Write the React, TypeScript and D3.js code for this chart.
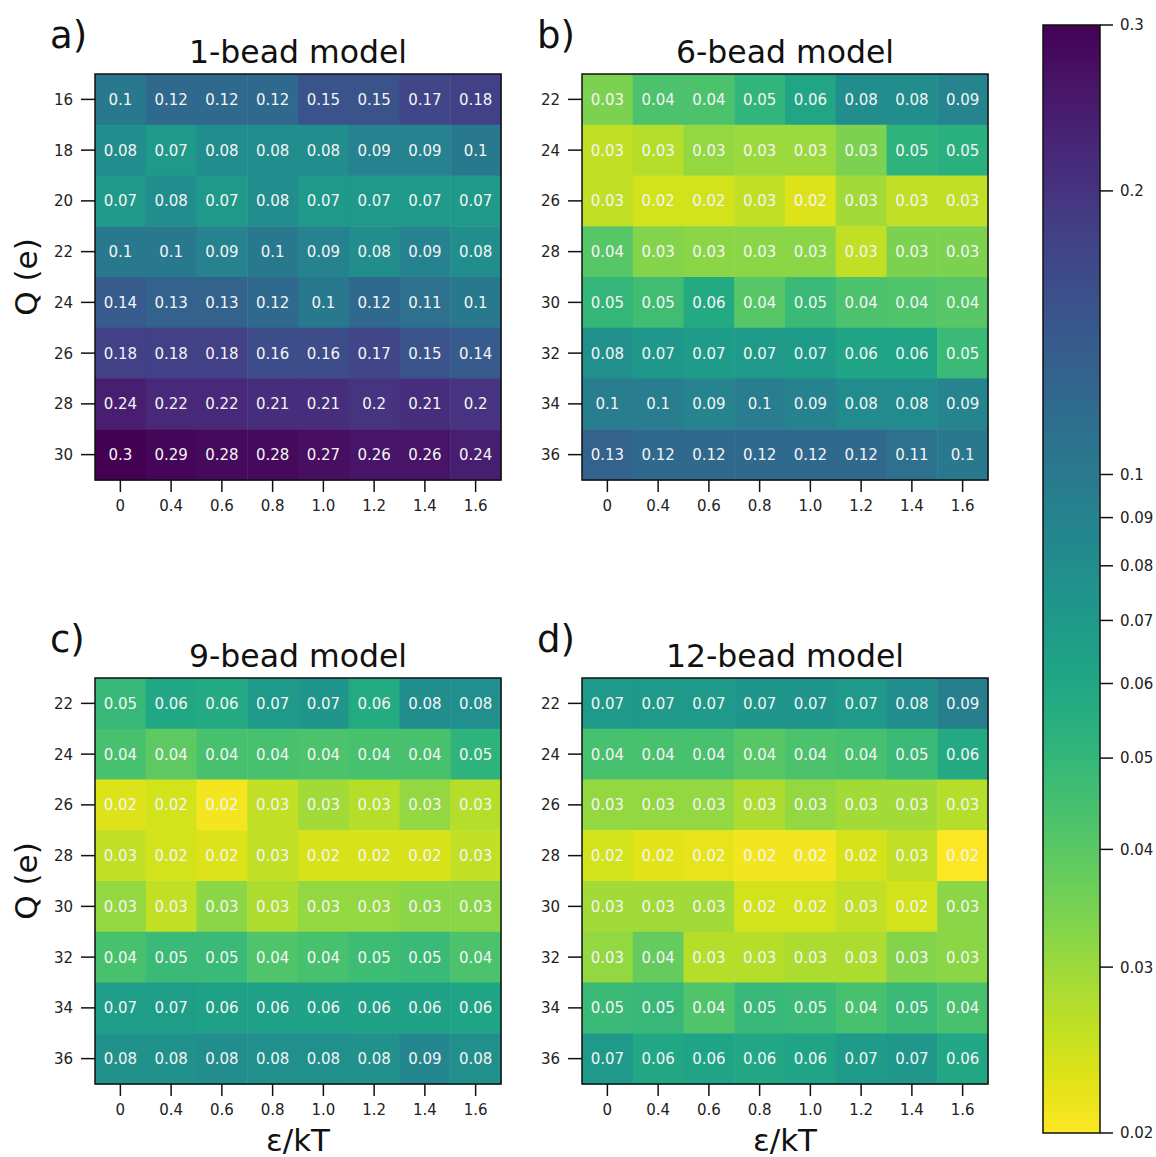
import React from 'react';
import * as d3 from 'd3';

// epsilon/kT categories (columns)
const epsLabels = ['0', '0.4', '0.6', '0.8', '1.0', '1.2', '1.4', '1.6'];
// charge rows
const qLabelsA = ['16', '18', '20', '22', '24', '26', '28', '30'];
const qLabelsBCD = ['22', '24', '26', '28', '30', '32', '34', '36'];

// values read off the cells (unrounded guesses from the cell colours, labels show 2 decimals)
const bead1 = [
    [0.1, 0.12, 0.12, 0.12, 0.15, 0.15, 0.17, 0.18],
    [0.08, 0.07, 0.08, 0.08, 0.08, 0.09, 0.09, 0.1],
    [0.07, 0.08, 0.07, 0.08, 0.07, 0.07, 0.07, 0.07],
    [0.1, 0.1, 0.09, 0.1, 0.09, 0.08, 0.09, 0.08],
    [0.14, 0.13, 0.13, 0.12, 0.1, 0.12, 0.11, 0.1],
    [0.18, 0.18, 0.18, 0.16, 0.16, 0.17, 0.15, 0.14],
    [0.24, 0.22, 0.22, 0.21, 0.21, 0.2, 0.21, 0.2],
    [0.3, 0.29, 0.28, 0.28, 0.27, 0.26, 0.26, 0.24],
];
const bead6 = [
    [0.034, 0.043, 0.043, 0.051, 0.061, 0.08, 0.08, 0.088],
    [0.026, 0.027, 0.031, 0.03, 0.03, 0.034, 0.052, 0.054],
    [0.026, 0.024, 0.024, 0.026, 0.023, 0.029, 0.026, 0.026],
    [0.041, 0.033, 0.032, 0.032, 0.032, 0.026, 0.034, 0.034],
    [0.05, 0.046, 0.058, 0.041, 0.048, 0.043, 0.042, 0.041],
    [0.078, 0.071, 0.068, 0.069, 0.068, 0.062, 0.062, 0.048],
    [0.096, 0.096, 0.088, 0.096, 0.09, 0.082, 0.082, 0.088],
    [0.13, 0.12, 0.12, 0.12, 0.12, 0.12, 0.11, 0.1],
];
const bead9 = [
    [0.049, 0.06, 0.058, 0.07, 0.073, 0.057, 0.08, 0.079],
    [0.044, 0.039, 0.044, 0.044, 0.043, 0.044, 0.044, 0.052],
    [0.023, 0.024, 0.021, 0.026, 0.029, 0.027, 0.031, 0.027],
    [0.026, 0.024, 0.023, 0.026, 0.0235, 0.0235, 0.0235, 0.026],
    [0.031, 0.026, 0.032, 0.028, 0.031, 0.031, 0.032, 0.032],
    [0.044, 0.048, 0.048, 0.042, 0.044, 0.047, 0.048, 0.043],
    [0.067, 0.067, 0.064, 0.064, 0.063, 0.063, 0.063, 0.062],
    [0.077, 0.077, 0.08, 0.078, 0.078, 0.077, 0.087, 0.078],
];
const bead12 = [
    [0.07, 0.07, 0.07, 0.073, 0.073, 0.07, 0.08, 0.094],
    [0.044, 0.044, 0.044, 0.041, 0.043, 0.044, 0.048, 0.058],
    [0.031, 0.031, 0.031, 0.028, 0.031, 0.029, 0.029, 0.027],
    [0.024, 0.0225, 0.022, 0.021, 0.021, 0.0235, 0.026, 0.02],
    [0.029, 0.029, 0.029, 0.024, 0.024, 0.026, 0.024, 0.032],
    [0.031, 0.038, 0.027, 0.027, 0.028, 0.028, 0.033, 0.032],
    [0.048, 0.049, 0.042, 0.049, 0.048, 0.044, 0.048, 0.044],
    [0.07, 0.06, 0.062, 0.06, 0.062, 0.068, 0.071, 0.06],
];

const cbTicks = [0.02, 0.03, 0.04, 0.05, 0.06, 0.07, 0.08, 0.09, 0.1, 0.2, 0.3];
const cbTickLabels = ['0.02', '0.03', '0.04', '0.05', '0.06', '0.07', '0.08', '0.09', '0.1', '0.2', '0.3'];

const font = 'DejaVu Sans, sans-serif';
const vmin = 0.02;
const vmax = 0.3;
const norm = d3.scaleLog().domain([vmin, vmax]).range([0, 1]).clamp(true);
const colorOf = (v) => d3.interpolateViridis(1 - norm(v));
const fmt = (v) => String(+v.toFixed(2));

const SIZE = 406;

const Heatmap = ({ left, top, title, tag, rows, values, yTitle, xTitle }) => {
    const x = d3.scaleBand().domain(epsLabels).range([left, left + SIZE]);
    const y = d3.scaleBand().domain(rows).range([top, top + SIZE]);
    const bw = x.bandwidth();
    const bh = y.bandwidth();
    return (
        <g>
            <text x={left - 45} y={top - 26} fontSize={37} fontFamily={font} fill='#111'>{tag}</text>
            <text x={left + SIZE / 2} y={top - 11} fontSize={31.5} fontFamily={font} textAnchor='middle' fill='#111'>{title}</text>
            {values.map((row, i) =>
                row.map((v, j) => (
                    <g key={i + '-' + j}>
                        <rect x={x(epsLabels[j])} y={y(rows[i])} width={bw + 0.5} height={bh + 0.5} fill={colorOf(v)} />
                        <text
                            x={x(epsLabels[j]) + bw / 2}
                            y={y(rows[i]) + bh / 2}
                            dy='0.36em'
                            textAnchor='middle'
                            fontSize={15}
                            fontFamily={font}
                            fill='#f4f4f4'
                        >
                            {fmt(v)}
                        </text>
                    </g>
                ))
            )}
            <rect x={left} y={top} width={SIZE} height={SIZE} fill='none' stroke='#111' strokeWidth={1.5} />
            {rows.map(r => (
                <g key={'y' + r}>
                    <line x1={left - 14} x2={left} y1={y(r) + bh / 2} y2={y(r) + bh / 2} stroke='#111' strokeWidth={1.5} />
                    <text x={left - 22} y={y(r) + bh / 2} dy='0.36em' textAnchor='end' fontSize={15} fontFamily={font} fill='#222'>{r}</text>
                </g>
            ))}
            {epsLabels.map(e => (
                <g key={'x' + e}>
                    <line x1={x(e) + bw / 2} x2={x(e) + bw / 2} y1={top + SIZE} y2={top + SIZE + 12} stroke='#111' strokeWidth={1.5} />
                    <text x={x(e) + bw / 2} y={top + SIZE + 31} textAnchor='middle' fontSize={15} fontFamily={font} fill='#222'>{e}</text>
                </g>
            ))}
            {yTitle && (
                <text
                    transform={'translate(' + (left - 58) + ',' + (top + SIZE / 2) + ') rotate(-90)'}
                    textAnchor='middle'
                    fontSize={31}
                    fontFamily={font}
                    fill='#111'
                >
                    Q (e)
                </text>
            )}
            {xTitle && (
                <text x={left + SIZE / 2} y={top + SIZE + 67} textAnchor='middle' fontSize={31} fontFamily={font} fill='#111'>
                    ε/kT
                </text>
            )}
        </g>
    );
};

const Colorbar = () => {
    const cbLeft = 1043;
    const cbW = 57;
    const s = d3.scaleLog().domain([vmin, vmax]).range([1133, 25]);
    const stops = d3.range(0, 1.0001, 0.02);
    return (
        <g>
            <defs>
                <linearGradient id='cbgrad' x1='0' y1='0' x2='0' y2='1'>
                    {stops.map(o => (
                        <stop key={o} offset={o} stopColor={d3.interpolateViridis(o)} />
                    ))}
                </linearGradient>
            </defs>
            <rect x={cbLeft} y={25} width={cbW} height={1108} fill='url(#cbgrad)' stroke='#111' strokeWidth={1.5} />
            {cbTicks.map((t, i) => (
                <g key={t}>
                    <line x1={cbLeft + cbW} x2={cbLeft + cbW + 13} y1={s(t)} y2={s(t)} stroke='#111' strokeWidth={1.5} />
                    <text x={cbLeft + cbW + 20} y={s(t)} dy='0.36em' fontSize={15} fontFamily={font} fill='#222'>{cbTickLabels[i]}</text>
                </g>
            ))}
        </g>
    );
};

export default function App() {
    return (
        <svg width={1156} height={1157} style={{ position: 'absolute', left: 0, top: 0, background: '#fff' }}>
            <Heatmap left={95} top={74} title='1-bead model' tag='a)' rows={qLabelsA} values={bead1} yTitle xTitle={false} />
            <Heatmap left={582} top={74} title='6-bead model' tag='b)' rows={qLabelsBCD} values={bead6} yTitle={false} xTitle={false} />
            <Heatmap left={95} top={678} title='9-bead model' tag='c)' rows={qLabelsBCD} values={bead9} yTitle xTitle />
            <Heatmap left={582} top={678} title='12-bead model' tag='d)' rows={qLabelsBCD} values={bead12} yTitle={false} xTitle />
            <Colorbar />
        </svg>
    );
}
